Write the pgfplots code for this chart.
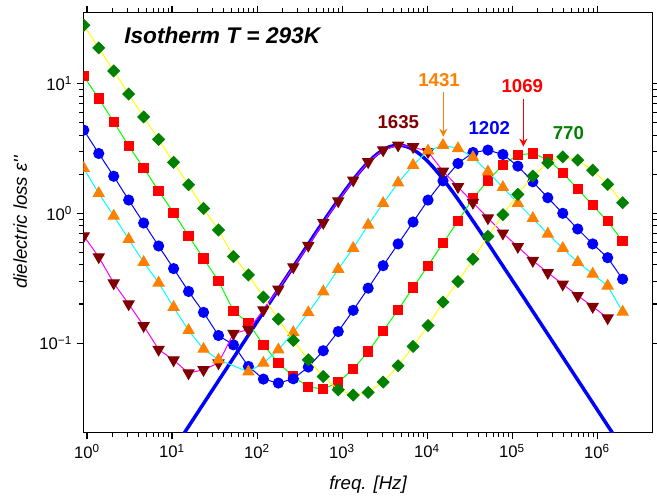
\documentclass[border=0pt]{standalone}
\usepackage{fontspec}
\setmainfont{Liberation Sans}
\usepackage{pgfplots}
\pgfplotsset{compat=1.18}
\usetikzlibrary{arrows.meta}

\definecolor{cGreen}{RGB}{0,128,0}
\definecolor{cRed}{RGB}{255,0,0}
\definecolor{cBlue}{RGB}{0,0,255}
\definecolor{cOrange}{RGB}{255,128,0}
\definecolor{cDarkRed}{RGB}{128,0,0}
\definecolor{cYellow}{RGB}{255,255,0}
\definecolor{cLime}{RGB}{0,255,0}
\definecolor{cCyan}{RGB}{0,255,255}
\definecolor{cMagenta}{RGB}{255,0,255}

\begin{document}
\begin{tikzpicture}
\begin{axis}[
  scale only axis,
  width=427pt, height=315.3pt,
  xmode=log, ymode=log,
  xmin=0.905, xmax=4.52e6,
  ymin=0.0204, ymax=35.4,
  tick align=outside,
  major tick length=5pt, minor tick length=3pt,
  tick style={black, line width=0.8pt},
  axis line style={line width=1pt},
  xtick={1,10,100,1000,10000,100000,1000000},
  xticklabels={10\textsuperscript{0},10\textsuperscript{1},10\textsuperscript{2},10\textsuperscript{3},10\textsuperscript{4},10\textsuperscript{5},10\textsuperscript{6}},
  ytick={0.1,1,10},
  yticklabels={10\textsuperscript{−1},10\textsuperscript{0},10\textsuperscript{1}},
  tick label style={font=\fontsize{12.5}{14}\selectfont},
  xlabel={freq. [Hz]},
  ylabel={dielectric loss ε\textquotesingle\textquotesingle},
  label style={font=\itshape\fontsize{14}{16}\selectfont},
  xlabel style={at={(axis description cs:0.5,-0.124)}, anchor=center},
  ylabel style={at={(axis description cs:-0.111,0.5)}, anchor=center},
  clip marker paths=true,
]
\coordinate (SW) at (rel axis cs:0,0);
\coordinate (NE) at (rel axis cs:1,1);

% fit line (Debye peak)
\addplot[cBlue, line width=2.6pt, smooth] coordinates {
  (11.56,0.01683) (14.55,0.02119) (46,0.067) (145.5,0.2117) (460,0.6634)
  (613.6,0.878) (818,1.155) (1091,1.504) (1455,1.926) (1940,2.399)
  (2587,2.862) (3450,3.216) (4600,3.35) (6133,3.216) (8180,2.862)
  (10908,2.399) (14546,1.926) (19400,1.504) (25870,1.155) (34480,0.878)
  (46000,0.6634) (145460,0.2117) (460000,0.067) (1454600,0.02119) (1832000,0.01683)};

% 1069 - red squares
\addplot[cLime, line width=0.75pt, mark=square*, mark size=3.5pt,
  mark options={draw=cRed, fill=cRed, solid}] coordinates {
  (0.916,11.36) (1.374,7.67) (2.060,5.07) (3.090,3.30) (4.636,2.24)
  (6.953,1.49) (10.43,1.01) (15.65,0.669) (23.47,0.449) (35.20,0.301)
  (52.80,0.177) (79.21,0.1425) (118.8,0.097) (178.2,0.0702) (267.3,0.0553)
  (401.0,0.0459) (601.5,0.0443) (902.2,0.0498) (1353,0.0631) (2030,0.0861)
  (3045,0.1244) (4567,0.180) (6851,0.268) (10276,0.395) (15415,0.588)
  (23122,0.873) (34683,1.30) (52025,1.79) (78037,2.36) (117056,2.82)
  (175584,2.89) (263374,2.60) (395062,2.05) (592593,1.54) (888889,1.152)
  (1333333,0.868) (2000000,0.610)};

% 1202 - blue circles
\addplot[cBlue, line width=0.75pt, mark=*, mark size=3.8pt,
  mark options={draw=cBlue, fill=cBlue, solid}] coordinates {
  (0.916,4.37) (1.374,2.89) (2.060,1.93) (3.090,1.265) (4.636,0.842)
  (6.953,0.560) (10.43,0.375) (15.65,0.250) (23.47,0.1725) (35.20,0.1144)
  (52.80,0.0970) (79.21,0.0661) (118.8,0.0528) (178.2,0.0492) (267.3,0.0531)
  (401.0,0.0654) (601.5,0.0873) (902.2,0.1228) (1353,0.1788) (2030,0.265)
  (3045,0.395) (4567,0.581) (6851,0.857) (10276,1.265) (15415,1.78)
  (23122,2.42) (34683,2.94) (52025,3.07) (78037,2.84) (117056,2.31)
  (175584,1.75) (263374,1.318) (395062,1.00) (592593,0.757) (888889,0.581)
  (1333333,0.455) (2000000,0.311)};

% 1635 - dark red down triangles
\addplot[cMagenta, line width=0.75pt, mark=triangle*, mark size=4.7pt,
  mark options={draw=cDarkRed, fill=cDarkRed, solid, rotate=180}] coordinates {
  (0.916,0.669) (1.374,0.461) (2.060,0.290) (3.090,0.200) (4.636,0.136)
  (6.953,0.0893) (10.43,0.074) (15.65,0.0588) (23.47,0.0623) (35.20,0.0702)
  (52.80,0.1186) (79.21,0.127) (118.8,0.180) (178.2,0.260) (267.3,0.386)
  (401.0,0.565) (601.5,0.847) (902.2,1.244) (1353,1.80) (2030,2.49)
  (3045,3.07) (4567,3.35) (6851,3.25) (10276,2.98) (15415,2.11)
  (23122,1.60) (34683,1.21) (52025,0.920) (78037,0.702) (117056,0.553)
  (175584,0.432) (263374,0.349) (395062,0.284) (592593,0.232) (888889,0.191)
  (1333333,0.156)};

% 1431 - orange up triangles
\addplot[cCyan, line width=0.75pt, mark=triangle*, mark size=4.7pt,
  mark options={draw=cOrange, fill=cOrange, solid}] coordinates {
  (0.916,2.22) (1.374,1.425) (2.060,0.954) (3.090,0.631) (4.636,0.420)
  (6.953,0.291) (10.43,0.189) (15.65,0.1254) (23.47,0.0899) (35.20,0.0744)
  (79.21,0.0601) (118.8,0.0702) (178.2,0.0888) (267.3,0.1207)
  (401.0,0.172) (601.5,0.249) (902.2,0.371) (1353,0.538) (2030,0.813)
  (3045,1.194) (4567,1.72) (6851,2.35) (10276,3.03) (15415,3.35)
  (23122,3.16) (34683,2.70) (52025,2.09) (78037,1.585) (117056,1.194)
  (175584,0.915) (263374,0.693) (395062,0.538) (592593,0.420) (888889,0.341)
  (1333333,0.276) (2000000,0.174)};

% 770 - green diamonds
\addplot[cYellow, line width=0.75pt, mark=square*, mark size=3.1pt,
  mark options={draw=cGreen, fill=cGreen, solid, rotate=45}] coordinates {
  (0.916,28.1) (1.374,18.8) (2.060,12.5) (3.090,8.3) (4.636,5.53)
  (6.953,3.71) (10.43,2.47) (15.65,1.66) (23.47,1.09) (35.20,0.744)
  (52.80,0.464) (79.21,0.335) (118.8,0.226) (178.2,0.153) (267.3,0.1047)
  (401.0,0.0744) (601.5,0.0553) (902.2,0.0437) (1353,0.0398) (2030,0.0417)
  (3045,0.0501) (4567,0.0669) (6851,0.0942) (10276,0.1366) (15415,0.2067)
  (23122,0.298) (34683,0.443) (52025,0.665) (78037,0.976) (117056,1.40)
  (175584,1.936) (263374,2.45) (395062,2.72) (592593,2.57) (888889,2.15)
  (1333333,1.67) (2000000,1.206)};

\node[font=\bfseries\itshape\fontsize{17}{20}\selectfont] at (rel axis cs:0.244,0.944) {Isotherm T = 293K};

\node[font=\bfseries\fontsize{14}{16}\selectfont, text=cDarkRed] at (axis cs:4594,5.02) {1635};
\node[font=\bfseries\fontsize{14}{16}\selectfont, text=cOrange] at (axis cs:13840,10.64) {1431};
\node[font=\bfseries\fontsize{14}{16}\selectfont, text=cBlue] at (axis cs:54080,4.52) {1202};
\node[font=\bfseries\fontsize{14}{16}\selectfont, text=cRed] at (axis cs:132200,9.57) {1069};
\node[font=\bfseries\fontsize{14}{16}\selectfont, text=cGreen] at (axis cs:459400,4.13) {770};
\draw[cOrange, line width=1.1pt, -{Stealth[length=6pt,width=6pt]}] (axis cs:15560,8.65) -- (axis cs:15560,3.89);
\draw[cRed, line width=1.1pt, -{Stealth[length=6pt,width=6pt]}] (axis cs:135900,7.60) -- (axis cs:135900,3.26);
\end{axis}
\pgfresetboundingbox
\path[use as bounding box] ([shift={(-62.5pt,-47.5pt)}]SW) rectangle ([shift={(3.2pt,9.2pt)}]NE);
\end{tikzpicture}
\end{document}
